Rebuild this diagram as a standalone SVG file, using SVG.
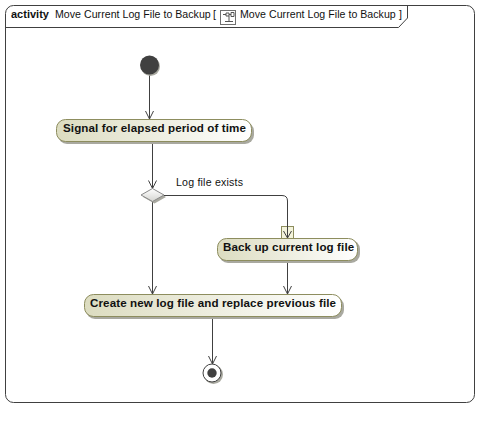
<svg xmlns="http://www.w3.org/2000/svg" width="499" height="427" viewBox="0 0 499 427">
<style>
text{font-family:"Liberation Sans",Arial,sans-serif;fill:#111}
.f{font-size:10.6px;letter-spacing:.03px}
.t{font-size:11.6px;font-weight:bold;letter-spacing:.1px}
.a{fill:url(#g);stroke:#8d8d5e;stroke-width:1}
.s{fill:#a9a9a0}
.c{fill:none;stroke:#404040;stroke-width:1}
</style>
<defs>
<linearGradient id="g" x1="0" x2="1" y1="0" y2="0"><stop offset="0" stop-color="#dcdcc0"/><stop offset="1" stop-color="#fff"/></linearGradient>
<linearGradient id="d" x1="0" x2="0" y1="0" y2="1"><stop offset="0" stop-color="#fff"/><stop offset="1" stop-color="#d4d4d0"/></linearGradient>
<marker id="v" markerUnits="userSpaceOnUse" markerWidth="12" markerHeight="12" refX="8" refY="5" orient="auto" overflow="visible"><path d="M0 1L8 5L0 9" fill="none" stroke="#404040"/></marker>
</defs>
<g id="frame">
<rect x="5.500" y="5.500" width="469" height="397" rx="8" fill="#fff" stroke="#404040"/>
<path d="M5.500 27.500H398.500L407.500 18V5.500" fill="none" stroke="#404040"/>
<text x="11" y="18" style="font-size:11px;font-weight:bold">activity</text>
<text x="55" y="18" class="f">Move Current Log File to Backup</text>
<text x="213" y="18" class="f">[</text>
<rect x="220.500" y="10.500" width="15" height="14" fill="#fff" stroke="#707070"/>
<path d="M223 14.500h3M226 13h3v3h-3zM229 14.500h2M229 16v5M225 21.500h8M231 12.500h3v4h-3z" fill="none" stroke="#555"/>
<text x="240" y="18" class="f">Move Current Log File to Backup</text>
<text x="399" y="18" class="f">]</text>
</g>
<g id="connectors">
<path class="c" marker-end="url(#v)" d="M149.500 75V119"/>
<path class="c" marker-end="url(#v)" d="M152.500 142V188.500"/>
<path class="c" marker-end="url(#v)" d="M152.500 202V294"/>
<path class="c" marker-end="url(#v)" d="M164 195.500H282Q287.500 195.500 287.500 201V238"/>
<path class="c" marker-end="url(#v)" d="M287.500 261V294"/>
<path class="c" marker-end="url(#v)" d="M212.500 316V364"/>
<text x="176" y="186" class="f" style="letter-spacing:.2px">Log file exists</text>
</g>
<g id="start"><circle cx="150.500" cy="66.500" r="9.500" class="s"/><circle cx="149.500" cy="65" r="9.500" fill="#404040"/></g>
<g id="signal"><rect x="58" y="122" width="196" height="22" rx="9" class="s"/><rect x="56.500" y="119.500" width="195" height="22" rx="9" class="a"/><text x="63" y="132" class="t">Signal for elapsed period of time</text></g>
<g id="decision"><path d="M143 197L154.500 190.500L166 197L154.500 203.500Z" class="s"/><path d="M141 195L152.500 188.500L164 195L152.500 201.500Z" fill="url(#d)" stroke="#8a8a8a"/></g>
<g id="pin"><rect x="281.500" y="226.500" width="12" height="12" fill="#f4f4dc" stroke="#8d8d5e"/><path class="c" d="M287.500 226V238M283.500 231L287.500 238L291.500 231"/></g>
<g id="backup"><rect x="219" y="240" width="141" height="23" rx="9" class="s"/><rect x="217.500" y="238.500" width="140" height="22" rx="9" class="a"/><text x="223" y="251" class="t">Back up current log file</text></g>
<g id="create"><rect x="86" y="297" width="258" height="22" rx="9" class="s"/><rect x="84.500" y="294.500" width="257" height="22" rx="9" class="a"/><text x="90" y="307" class="t">Create new log file and replace previous file</text></g>
<g id="end"><circle cx="213.500" cy="374.500" r="9.500" class="s"/><circle cx="212" cy="373" r="9" fill="#fff" stroke="#404040"/><circle cx="212" cy="373" r="4.700" fill="#404040"/></g>
</svg>
